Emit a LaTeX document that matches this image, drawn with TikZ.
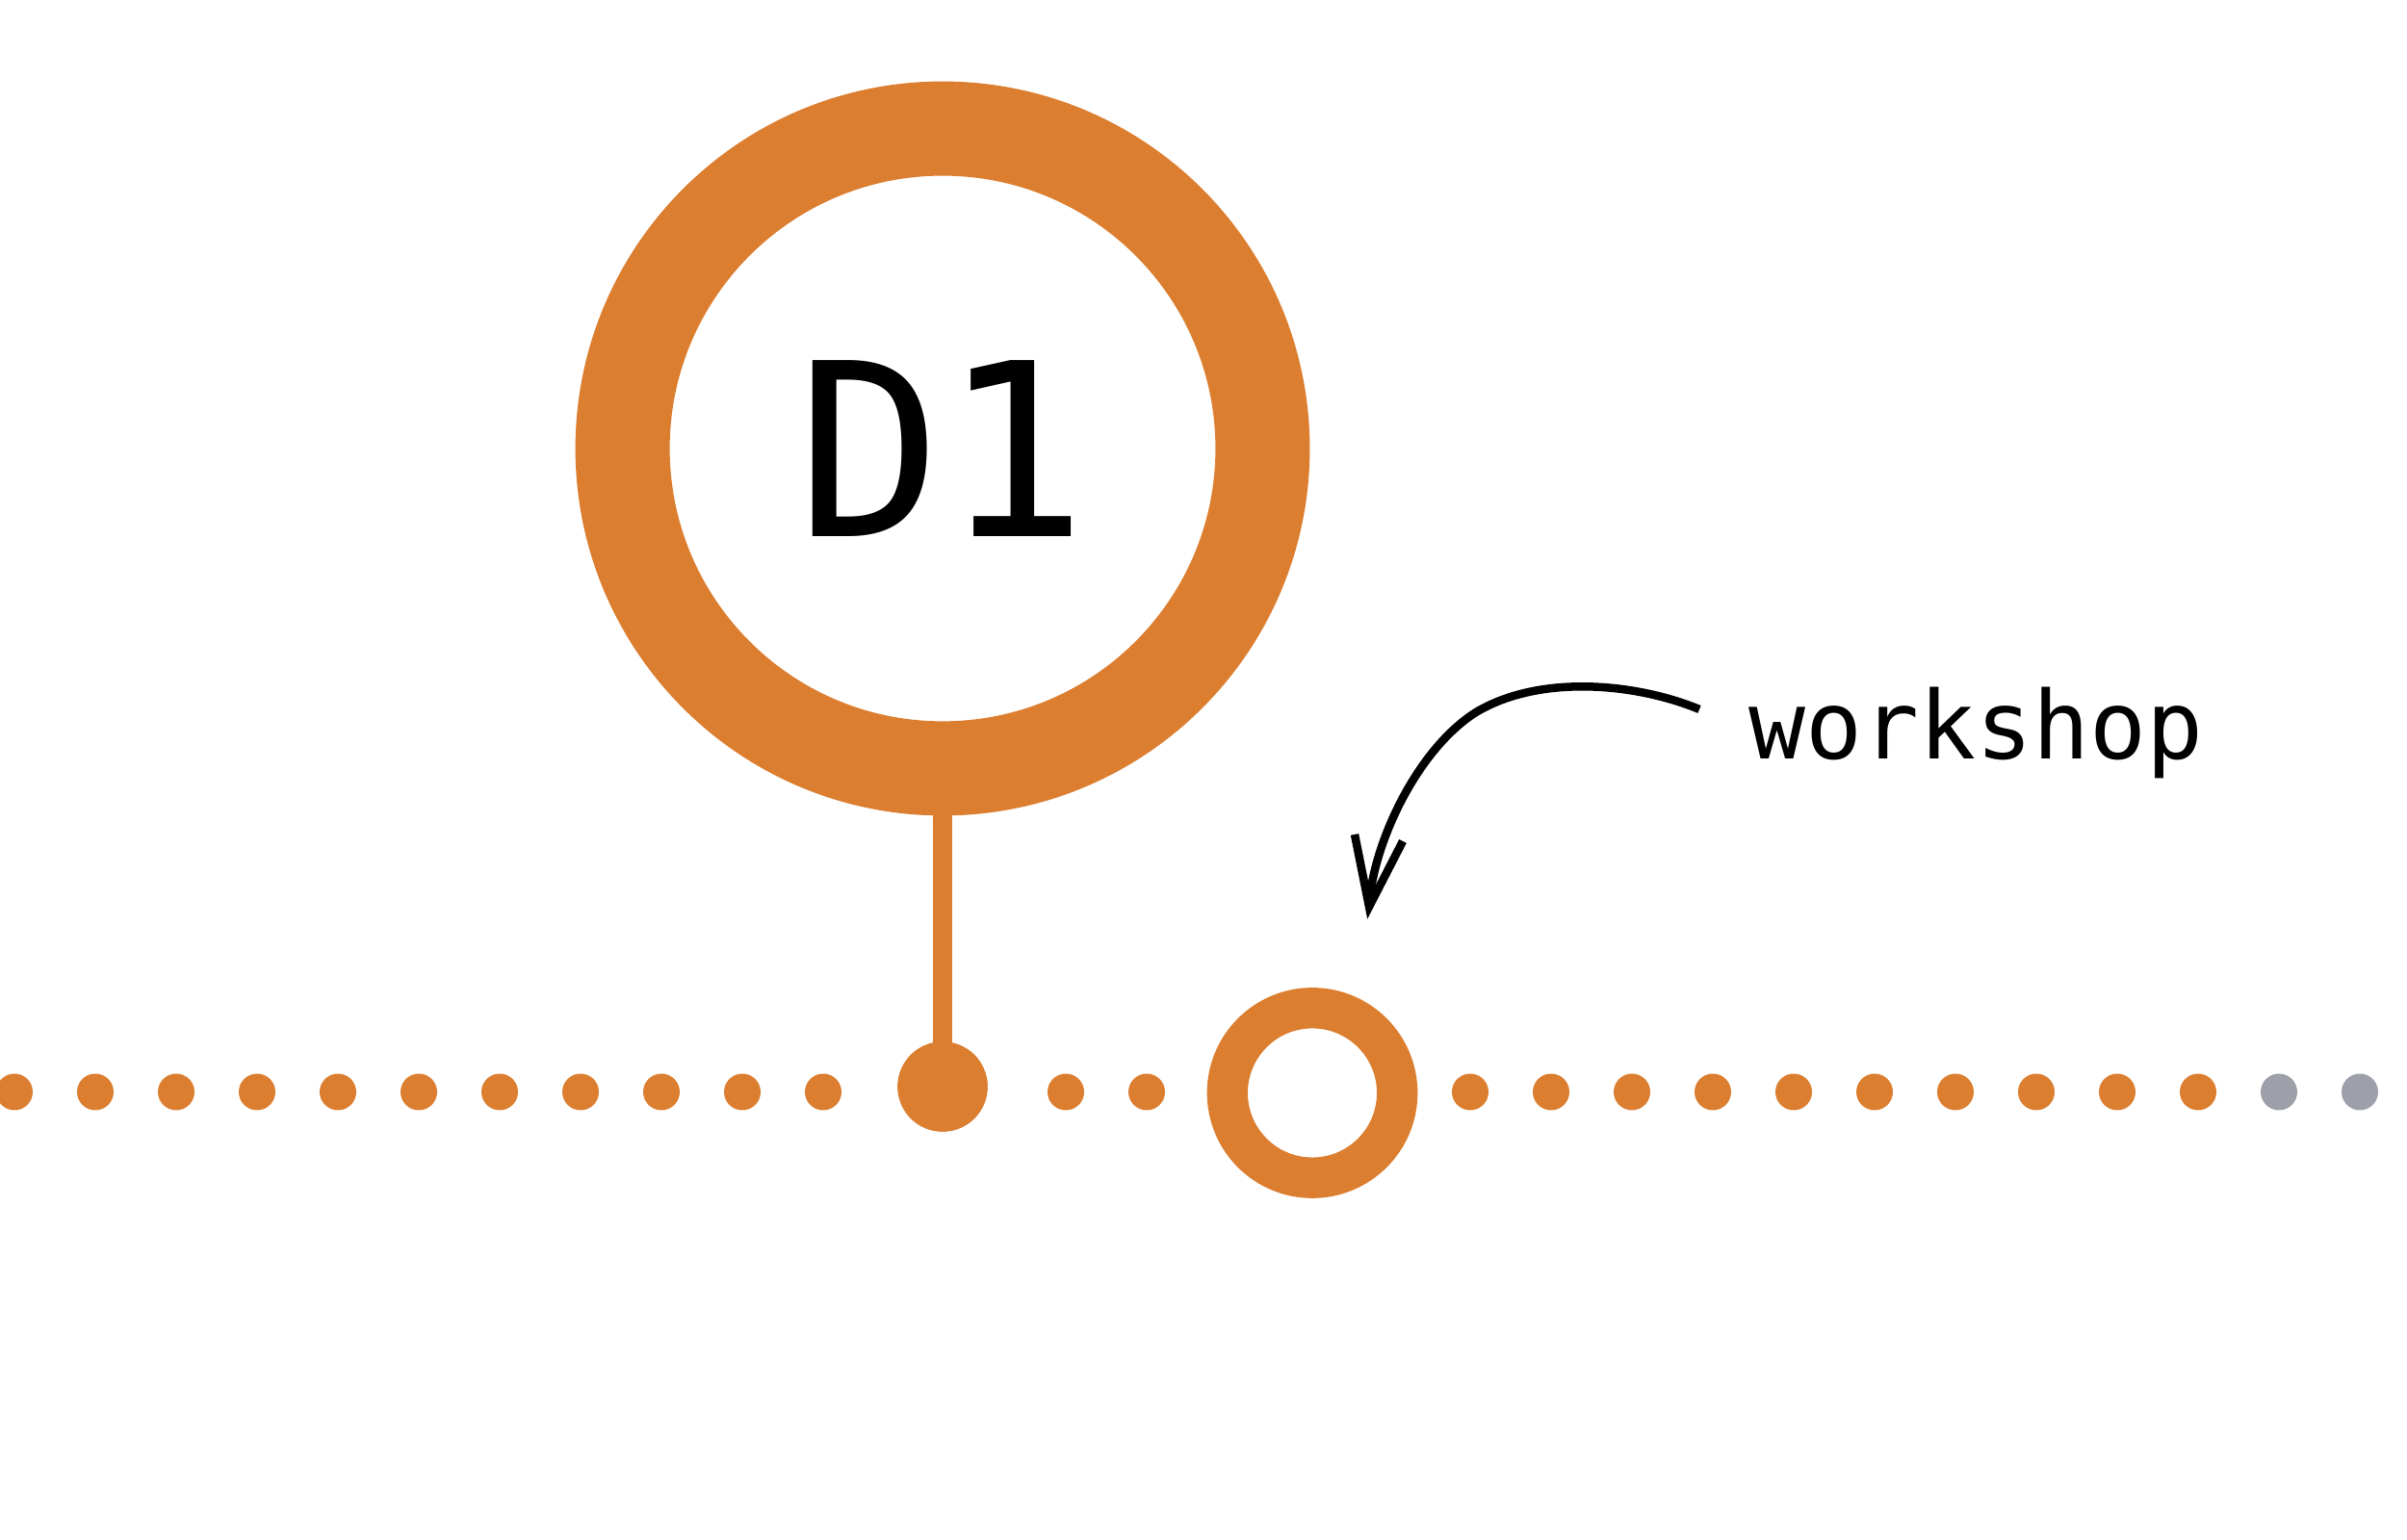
\documentclass[tikz,border=0pt]{standalone}
\usepackage{fontspec}
\newfontfamily\labelfont{DejaVu Sans Mono}
\definecolor{accent}{HTML}{DC7E30}
\definecolor{muted}{HTML}{9DA0A8}
\begin{document}
\begin{tikzpicture}[
  ring/.style={circle, draw=accent, inner sep=0pt},
  bigring/.style={ring, line width=0.98cm, minimum size=6.648cm},
  smallring/.style={ring, line width=0.423cm, minimum size=1.764cm},
  bigdot/.style={circle, fill=accent, inner sep=0pt, minimum size=0.934cm},
  smalldot/.style={circle, fill=#1, inner sep=0pt, minimum size=0.38cm},
  stem/.style={draw=accent, line width=0.197cm},
  pointer/.style={draw=black, line width=0.085cm},
]
\useasboundingbox (0,0) rectangle (25,16);
\fill[white] (0,0) rectangle (25,16);
% timeline dots
\foreach \k in {0,...,10,13,14,18,19,...,27}{
  \node[smalldot=accent] (dot\k) at ({0.15+0.84*\k},4.655) {};
}
\foreach \k in {28,29}{
  \node[smalldot=muted] (dot\k) at ({0.15+0.84*\k},4.655) {};
}
% main marker
\node[bigring] (d1) at (9.79,11.34) {\labelfont\fontsize{71.4pt}{80pt}\selectfont D1};
\node[bigdot] (anchordot) at (9.79,4.71) {};
\draw[stem] (d1.south) -- (anchordot.center);
\node[bigdot] at (anchordot.center) {};
% workshop ring
\node[smallring] (ws) at (13.63,4.645) {};
% label and arrow
\node[anchor=base west, inner sep=0pt] (label) at (18.16,8.11) {\labelfont\fontsize{27.9pt}{32pt}\selectfont workshop};
\coordinate (astart) at (17.65,8.63);
\coordinate (atip) at (14.22,6.58);
\coordinate (wingl) at (14.07,7.33);
\coordinate (wingr) at (14.57,7.26);
\draw[pointer] (astart) .. controls (17.00,8.90) and (16.00,9.00) .. (15.33,8.60)
   .. controls (14.70,8.20) and (14.25,7.20) .. (atip);
\draw[pointer, line join=miter, miter limit=20] (wingl) -- (atip) -- (wingr);
\end{tikzpicture}
\end{document}
